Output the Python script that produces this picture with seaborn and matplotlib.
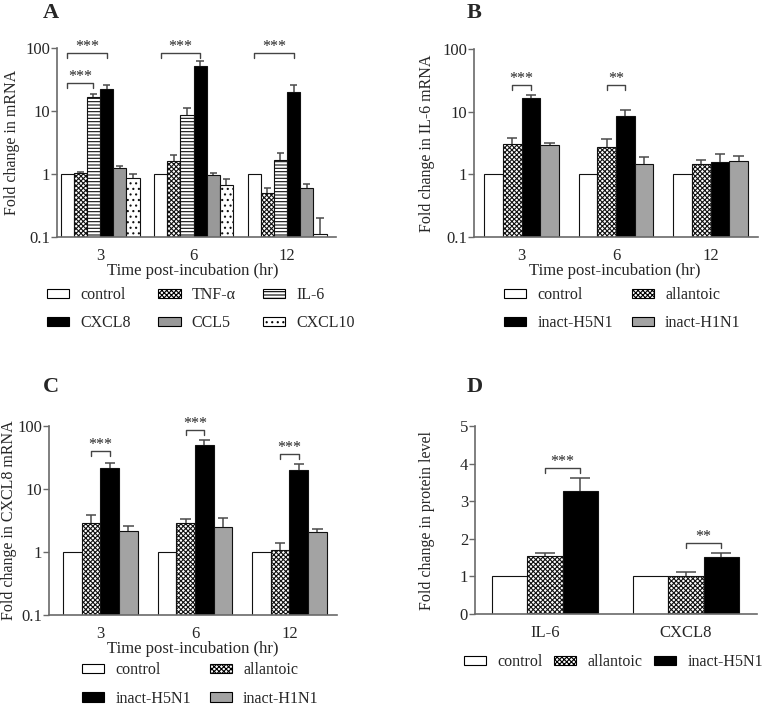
import numpy as np
import pandas as pd
import matplotlib
matplotlib.use("Agg")
import matplotlib.pyplot as plt
import matplotlib.patches as mpatches
import seaborn as sns

# ---- data -------------------------------------------------------------
times = ["3", "6", "12"]

a_series = ["control", "TNF-α", "IL-6", "CXCL8", "CCL5", "CXCL10"]
a_means = [[1, 1, 1],
           [1.05, 1.6, 0.5],
           [16.7, 8.6, 1.66],
           [22.4, 51, 20],
           [1.24, 0.98, 0.6],
           [0.86, 0.66, 0.112]]
a_upper = [[1, 1, 1],
           [1.07, 2.0, 0.59],
           [18.6, 11.2, 2.13],
           [26, 62, 25.5],
           [1.35, 1.04, 0.7],
           [0.99, 0.82, 0.2]]
a_sig = [(0, 0, 3, 83, "***"), (0, 0, 2, 27.7, "***"),
         (1, 0, 3, 83, "***"), (2, 0, 3, 83, "***")]

bc_series = ["control", "allantoic", "inact-H5N1", "inact-H1N1"]
b_means = [[1, 1, 1],
           [3.03, 2.7, 1.46],
           [16.5, 8.6, 1.6],
           [2.95, 1.46, 1.65]]
b_upper = [[1, 1, 1],
           [3.8, 3.6, 1.71],
           [18.6, 10.7, 2.08],
           [3.2, 1.9, 1.95]]
b_sig = [(0, 1, 2, 27, "***"), (1, 1, 2, 27, "**")]

c_means = [[1, 1, 1],
           [2.92, 2.92, 1.09],
           [21.8, 49.4, 19.8],
           [2.18, 2.5, 2.07]]
c_upper = [[1, 1, 1],
           [3.8, 3.33, 1.41],
           [25.9, 61, 25],
           [2.6, 3.46, 2.35]]
c_sig = [(0, 1, 2, 39.6, "***"), (1, 1, 2, 87.5, "***"), (2, 1, 2, 36.4, "***")]

d_cats = ["IL-6", "CXCL8"]
d_series = ["control", "allantoic", "inact-H5N1"]
d_means = [[1, 1],
           [1.54, 1.0],
           [3.27, 1.51]]
d_upper = [[1, 1],
           [1.63, 1.13],
           [3.63, 1.63]]
d_sig = [(0, 1, 2, 3.89, "***"), (1, 1, 2, 1.88, "**")]

# ---- styles per series ------------------------------------------------
STYLE = {
    "control":    ("white",   None),
    "TNF-α":      ("white",   "xxxxxxx"),
    "allantoic":  ("white",   "xxxxxxx"),
    "IL-6":       ("white",   "-----"),
    "CXCL8":      ("black",   None),
    "inact-H5N1": ("black",   None),
    "CCL5":       ("#999999", None),
    "inact-H1N1": ("#a3a3a3", None),
    "CXCL10":     ("white",   "..."),
}

sns.set_theme(style="ticks")
plt.rcParams["font.family"] = ["Liberation Serif", "DejaVu Serif"]
plt.rcParams["hatch.linewidth"] = 0.8
plt.rcParams["hatch.color"] = "black"

SPINE = "#6a6a6a"
FS = 11.5
TFS = 12

fig = plt.figure(figsize=(7.7, 7.07), dpi=100)
W, H = 770, 707


def axes_px(left, right, top, bottom):
    return fig.add_axes([left / W, 1 - bottom / H, (right - left) / W, (bottom - top) / H])


def draw_panel(ax, cats, series, means, upper, width, xlim, log, sig):
    rows = []
    for s, vals in zip(series, means):
        for c, v in zip(cats, vals):
            rows.append({"cat": c, "series": s, "value": v})
    df = pd.DataFrame(rows)
    pal = {s: STYLE[s][0] for s in series}
    sns.barplot(data=df, x="cat", y="value", hue="series", order=cats,
                hue_order=series, palette=pal, width=width, errorbar=None,
                edgecolor="#111111", linewidth=0.8, legend=False, ax=ax)
    if log:
        ax.set_yscale("log")
        ax.set_ylim(0.1, 100)
        ax.set_yticks([0.1, 1, 10, 100])
        ax.set_yticklabels(["0.1", "1", "10", "100"])
        ax.minorticks_off()
    else:
        ax.set_ylim(0, 5)
        ax.set_yticks(range(6))
    ax.set_xlim(*xlim)

    for s, cont, vals, ups in zip(series, ax.containers, means, upper):
        hatch = STYLE[s][1]
        for bar, v, u in zip(cont, vals, ups):
            if hatch:
                bar.set_hatch(hatch)
            if u > v:
                xc = bar.get_x() + bar.get_width() / 2
                cw = bar.get_width() * 0.28
                ax.vlines(xc, v, u, color="#4a4a4a", lw=1.1, zorder=1)
                ax.hlines(u, xc - cw, xc + cw, color="#4a4a4a", lw=1.1, zorder=3)

    # significance brackets
    for g, i1, i2, y, lab in sig:
        b1, b2 = ax.containers[i1][g], ax.containers[i2][g]
        x1 = b1.get_x() + b1.get_width() / 2
        x2 = b2.get_x() + b2.get_width() / 2
        yd = ax.transData.transform((0, y))[1]
        ytick = ax.transData.inverted().transform((0, yd - 5))[1]
        ax.plot([x1, x1, x2, x2], [ytick, y, y, ytick], color="#444444",
                lw=1.0, clip_on=False)
        ax.annotate(lab, xy=((x1 + x2) / 2, y), xytext=(0, 1.5),
                    textcoords="offset points", ha="center", va="baseline",
                    fontsize=FS, annotation_clip=False)

    sns.despine(ax=ax)
    for sp in ("left", "bottom"):
        ax.spines[sp].set_color(SPINE)
        ax.spines[sp].set_linewidth(1.2)
    ax.tick_params(axis="y", length=4, width=1, color=SPINE, pad=1, labelsize=TFS)
    ax.tick_params(axis="x", length=0, pad=8, labelsize=TFS)
    ax.set_xlabel("")
    ax.set_ylabel("")


def legend(handles_order, x, y, ncol, colsp, rowsp):
    handles = []
    for s in handles_order:
        fc, hatch = STYLE[s]
        handles.append(mpatches.Patch(facecolor=fc, edgecolor="black",
                                      hatch=hatch, linewidth=0.8, label=s))
    fig.legend(handles=handles, loc="upper left",
               bbox_to_anchor=(x / W, 1 - y / H), ncol=ncol, frameon=False,
               borderpad=0, borderaxespad=0, handlelength=1.4,
               handleheight=0.55, handletextpad=0.7, columnspacing=colsp,
               labelspacing=rowsp, fontsize=11.5)


# ---- panel A ----------------------------------------------------------
axA = axes_px(57, 336, 48, 237)
draw_panel(axA, times, a_series, a_means, a_upper, 0.845, (-0.46, 2.524), True, a_sig)
axA.set_ylabel("Fold change in mRNA", fontsize=FS)
axA.yaxis.set_label_coords(-0.133, 0.5)
axA.set_xlabel("Time post-incubation (hr)", fontsize=12)
axA.xaxis.set_label_coords(0.487, -0.14)
legend(["control", "CXCL8", "TNF-α", "CCL5", "IL-6", "CXCL10"], 47, 287, 3, 1.7, 0.75)

# ---- panel B ----------------------------------------------------------
axB = axes_px(474, 758, 49, 237)
draw_panel(axB, times, bc_series, b_means, b_upper, 0.79, (-0.503, 2.502), True, b_sig)
axB.set_ylabel("Fold change in IL-6 mRNA", fontsize=FS)
axB.yaxis.set_label_coords(-0.137, 0.5)
axB.set_xlabel("Time post-incubation (hr)", fontsize=12)
axB.xaxis.set_label_coords(0.497, -0.14)
legend(["control", "inact-H5N1", "allantoic", "inact-H1N1"], 504, 287, 2, 1.15, 0.75)

# ---- panel C ----------------------------------------------------------
axC = axes_px(49, 337, 426, 615)
draw_panel(axC, times, bc_series, c_means, c_upper, 0.79, (-0.545, 2.503), True, c_sig)
axC.set_ylabel("Fold change in CXCL8 mRNA", fontsize=FS)
axC.yaxis.set_label_coords(-0.111, 0.5)
axC.set_xlabel("Time post-incubation (hr)", fontsize=12)
axC.xaxis.set_label_coords(0.5, -0.14)
legend(["control", "inact-H5N1", "allantoic", "inact-H1N1"], 82, 662, 2, 1.15, 0.8)

# ---- panel D ----------------------------------------------------------
axD = axes_px(475, 757, 426, 614)
draw_panel(axD, d_cats, d_series, d_means, d_upper, 0.75, (-0.496, 1.504), False, d_sig)
axD.set_ylabel("Fold change in protein level", fontsize=FS)
axD.yaxis.set_label_coords(-0.141, 0.5)
legend(["control", "allantoic", "inact-H5N1"], 464, 654, 3, 0.7, 0.75)

# ---- panel letters ----------------------------------------------------
for lab, x, y in [("A", 43, 13), ("B", 467, 13), ("C", 43, 387), ("D", 467, 387)]:
    fig.text(x / W, 1 - y / H, lab, fontsize=16, fontweight="bold",
             ha="left", va="center")

fig.savefig("out.png", dpi=100)
